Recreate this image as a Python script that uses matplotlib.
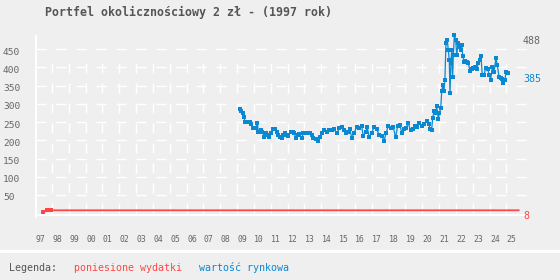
import matplotlib
matplotlib.use('Agg')
import matplotlib.pyplot as plt
from matplotlib.transforms import ScaledTranslation
from matplotlib.patches import Rectangle

plt.rcParams['lines.scale_dashes'] = False
MONO = 'DejaVu Sans Mono'
BG = '#efefef'
BLUE = '#0a88d2'
RED = '#ff4646'
GRAY = '#666666'

title = "Portfel okolicznościowy 2 zł - (1997 rok)"
year_labels = ["97", "98", "99", "00", "01", "02", "03", "04", "05", "06", "07", "08", "09", "10",
               "11", "12", "13", "14", "15", "16", "17", "18", "19", "20", "21", "22", "23", "24", "25"]
years = list(range(1997, 2026))
y_ticks = [50, 100, 150, 200, 250, 300, 350, 400, 450]

blue_dates = [
    2008.85, 2008.94, 2009.03, 2009.09, 2009.15, 2009.25, 2009.34, 2009.44, 2009.50, 2009.61,
    2009.68, 2009.78, 2009.88, 2009.94, 2010.08, 2010.18, 2010.29, 2010.40, 2010.50, 2010.59,
    2010.69, 2010.83, 2010.93, 2011.03, 2011.13, 2011.23, 2011.33, 2011.42, 2011.52, 2011.62,
    2011.72, 2011.86, 2011.98, 2012.08, 2012.18, 2012.28, 2012.37, 2012.52, 2012.61, 2012.71,
    2012.87, 2013.01, 2013.11, 2013.21, 2013.35, 2013.47, 2013.60, 2013.74, 2013.86, 2014.00,
    2014.14, 2014.30, 2014.44, 2014.60, 2014.75, 2014.89, 2015.03, 2015.15, 2015.29, 2015.39,
    2015.49, 2015.62, 2015.78, 2015.94, 2016.08, 2016.18, 2016.32, 2016.41, 2016.53, 2016.68,
    2016.81, 2016.97, 2017.13, 2017.27, 2017.41, 2017.53, 2017.66, 2017.81, 2017.96, 2018.10,
    2018.22, 2018.36, 2018.46, 2018.60, 2018.71, 2018.85, 2018.99, 2019.15, 2019.25, 2019.39,
    2019.51, 2019.65, 2019.78, 2019.95, 2020.08, 2020.14, 2020.24, 2020.30, 2020.38, 2020.50,
    2020.54, 2020.64, 2020.69, 2020.78, 2020.84, 2020.90, 2020.97, 2021.03, 2021.09, 2021.17,
    2021.23, 2021.29, 2021.33, 2021.39, 2021.43, 2021.49, 2021.53, 2021.59, 2021.67, 2021.73,
    2021.82, 2021.88, 2021.97, 2022.03, 2022.09, 2022.16, 2022.22, 2022.32, 2022.42, 2022.52,
    2022.62, 2022.72, 2022.82, 2022.92, 2023.01, 2023.11, 2023.17, 2023.25, 2023.35, 2023.45,
    2023.57, 2023.67, 2023.75, 2023.84, 2023.95, 2024.06, 2024.14, 2024.24, 2024.34, 2024.44,
    2024.50, 2024.60, 2024.66, 2024.80,
]
blue_values = [
    285, 281, 275, 265, 251, 249, 249, 249, 244, 234,
    234, 234, 248, 224, 227, 224, 210, 219, 214, 210,
    219, 230, 230, 224, 215, 210, 206, 215, 219, 215,
    212, 224, 224, 219, 207, 215, 217, 206, 219, 219,
    219, 219, 215, 206, 203, 199, 208, 219, 228, 224,
    227, 227, 231, 219, 233, 236, 227, 219, 224, 230,
    206, 219, 236, 233, 239, 212, 224, 236, 210, 219,
    236, 230, 215, 212, 199, 219, 239, 233, 236, 208,
    239, 242, 221, 230, 233, 247, 227, 230, 239, 236,
    248, 239, 245, 254, 245, 230, 228, 260, 279, 276,
    294, 258, 274, 288, 334, 352, 334, 366, 466, 475,
    448, 420, 329, 411, 448, 375, 434, 488, 475, 434,
    466, 457, 448, 462, 431, 416, 418, 416, 411, 391,
    395, 398, 402, 395, 411, 420, 431, 379, 379, 398,
    395, 379, 366, 402, 388, 425, 407, 375, 370, 367,
    356, 366, 388, 385,
]
red_dates = [1997.15, 1997.36, 1997.50, 1997.65, 2025.41]
red_values = [3, 8, 8, 8, 8]

legend_title = "Legenda:"
legend_red = "poniesione wydatki"
legend_blue = "wartość rynkowa"

W, H = 560, 280
fig = plt.figure(figsize=(W / 100, H / 100), dpi=100, facecolor=BG)
ax = fig.add_axes([36 / W, 63 / H, 491 / W, 181 / H])
ax.set_facecolor(BG)
XMIN, XMAX = 1996.733, 2025.907
YMIN, YMAX = -10.4, 486.1
ax.set_xlim(XMIN, XMAX)
ax.set_ylim(YMIN, YMAX)
for s in ['top', 'right', 'bottom']:
    ax.spines[s].set_visible(False)
ax.spines['left'].set_color('white')
ax.spines['left'].set_linewidth(1.4)
ax.set_xticks([])
ax.set_yticks([])

# grid
for v in y_ticks:
    ax.plot([XMIN, XMAX], [v, v], color='white', lw=1.0, dashes=(7.2, 7.2), zorder=1)
for y in years[:-1]:
    ax.plot([y + 0.68, y + 0.68], [411.5, YMIN], color='white', lw=1.0,
            dashes=(7.2, 7.2), zorder=1, clip_on=False)
ax.axhline(-4.1, color='white', lw=1.4, zorder=1)

# series
ax.plot(red_dates, red_values, color=RED, lw=1.3, marker='s', ms=3.0, mew=0,
        markevery=[0, 1, 2, 3], zorder=3, clip_on=False)
ax.plot(blue_dates, blue_values, color=BLUE, lw=0.9, marker='s', ms=2.5, mew=0,
        zorder=4, clip_on=False)

# y labels
ytr = ax.get_yaxis_transform() + ScaledTranslation(0, -0.03, fig.dpi_scale_trans)
for v in y_ticks:
    ax.text((3 - 36) / 491, v, str(v), ha='left', va='center', fontsize=6.8,
            family=MONO, color=GRAY, transform=ytr)

# x labels
xtr = ax.get_xaxis_transform()
for y, lab in zip(years, year_labels):
    ax.text(y, (217 - 239) / 181, lab, ha='center', va='center', fontsize=5.9,
            family=MONO, color=GRAY, transform=xtr)

# end labels
rtr = ax.get_yaxis_transform() + ScaledTranslation(0, -0.01, fig.dpi_scale_trans)
xr = (523 - 36) / 491
ax.text(xr, max(blue_values), str(max(blue_values)), ha='left', va='top', fontsize=7.2,
        family=MONO, color=GRAY, transform=rtr)
ax.text(xr, blue_values[-1], str(blue_values[-1]), ha='left', va='top', fontsize=7.2,
        family=MONO, color=BLUE, transform=rtr)
ax.text(xr, red_values[-1], str(red_values[-1]), ha='left', va='top', fontsize=7.2,
        family=MONO, color=RED, transform=rtr)

# title
fig.text(188.7 / W, 1 - 12.3 / H, title, ha='center', va='center', fontsize=8.4,
         family=MONO, weight='bold', color='#555555')

# separator
fig.patches.append(Rectangle((0, (H - 253) / H), 1, 3 / H, transform=fig.transFigure,
                             facecolor='white', edgecolor='none'))

# legend
ly = 1 - 267.7 / H
fig.text(9.3 / W, ly, legend_title, ha='left', va='center', fontsize=7.2, family=MONO, color='#555555')
fig.text(74 / W, ly, legend_red, ha='left', va='center', fontsize=7.2, family=MONO, color=RED)
fig.text(199.3 / W, ly, legend_blue, ha='left', va='center', fontsize=7.2, family=MONO, color=BLUE)

fig.savefig('out.png', dpi=100, facecolor=BG)
